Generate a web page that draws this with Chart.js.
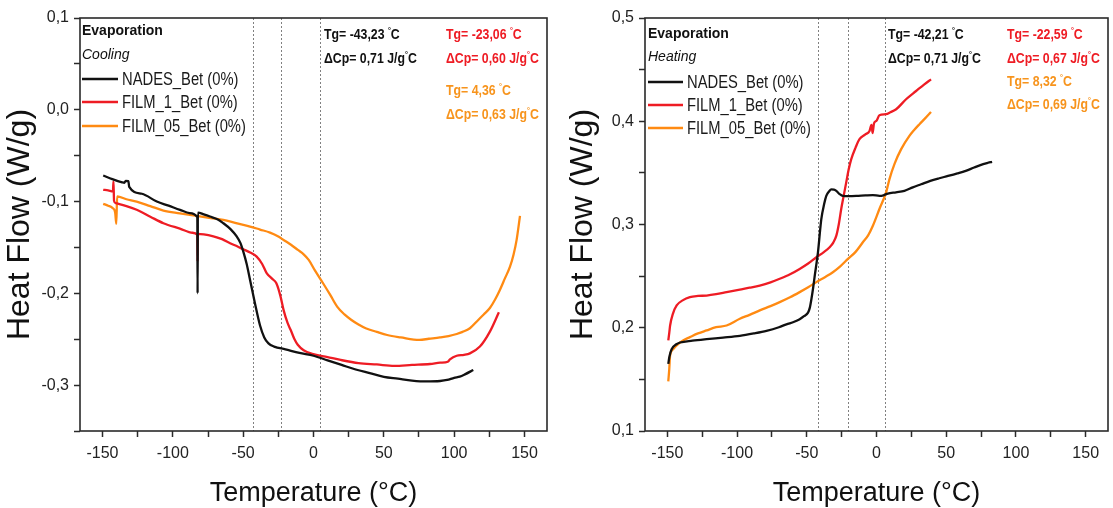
<!DOCTYPE html>
<html><head><meta charset="utf-8">
<script src="https://cdn.jsdelivr.net/npm/chart.js@4.4.1/dist/chart.umd.min.js"></script>
<style>
html,body{margin:0;padding:0;background:#fff;width:1113px;height:508px;overflow:hidden}
#left{position:absolute;left:0;top:0}
#right{position:absolute;left:560px;top:0}
</style></head><body>
<canvas id="left" width="560" height="508"></canvas>
<canvas id="right" width="553" height="508"></canvas>
<script>
// ---------- data ----------
const seriesNames = ['NADES_Bet (0%)', 'FILM_1_Bet (0%)', 'FILM_05_Bet (0%)'];

// Cooling (left panel)
const coolNadesT = [-149.5,-143,-136,-134.5,-133.5,-131.6,-131,-122,-111.4,-103,-94.9,-88,-82.6,-82.4,-82.2,-78,-73.6,-68,-64.1,-59,-54.6,-52,-49.9,-47.5,-45.1,-41.6,-38,-35,-32,-28,-20,-10,0,10,20,30,40,50,60,70,80,90,95,100,104,108,113.6];
const coolNadesHF = [-0.0716,-0.0755,-0.079,-0.0795,-0.0775,-0.0778,-0.084,-0.0915,-0.1,-0.1045,-0.109,-0.1125,-0.117,-0.2,-0.112,-0.114,-0.1163,-0.1195,-0.1236,-0.13,-0.138,-0.145,-0.1545,-0.168,-0.1854,-0.211,-0.235,-0.248,-0.2545,-0.258,-0.261,-0.265,-0.268,-0.273,-0.278,-0.283,-0.287,-0.291,-0.293,-0.295,-0.296,-0.2955,-0.2944,-0.292,-0.2908,-0.288,-0.2835];
const coolFilm1T = [-149.5,-146,-142.6,-142.2,-141.8,-140.6,-133,-125.7,-116,-106.7,-95,-86,-82.6,-82.4,-82.2,-78,-71.2,-65,-59.3,-54,-49.9,-45,-40.4,-36.5,-33.3,-29.5,-26.4,-23.5,-21.3,-18.5,-16.2,-13.5,-11.2,-7,-0.9,10,19.3,32,45,57.4,70,82.8,90,95.5,97,101.8,107,111.2,118.3,125.4,131.8];
const coolFilm1HF = [-0.0872,-0.0878,-0.089,-0.078,-0.099,-0.1017,-0.105,-0.109,-0.1165,-0.1236,-0.1295,-0.134,-0.1363,-0.1654,-0.1352,-0.1358,-0.138,-0.141,-0.1454,-0.149,-0.152,-0.1555,-0.16,-0.168,-0.178,-0.184,-0.189,-0.203,-0.218,-0.232,-0.24,-0.25,-0.256,-0.262,-0.266,-0.2695,-0.2726,-0.276,-0.2775,-0.279,-0.278,-0.277,-0.2756,-0.2745,-0.272,-0.268,-0.267,-0.2654,-0.258,-0.2417,-0.2206];
const coolFilm05T = [-149.5,-146,-142.7,-141,-140.2,-139.6,-133,-125.7,-116,-106.7,-95,-83,-73,-64.1,-55,-45.1,-38,-30.9,-25,-21.3,-16,-11.1,-7,-3.4,1,6.8,12,16.8,22,27,32,37.1,45,52.4,62,75.3,82,89.9,96,101.8,106,111.2,117.1,121,125.4,129,132.5,136,139.7,142.2,144.4,146.8];
const coolFilm05HF = [-0.1025,-0.1045,-0.1072,-0.112,-0.1243,-0.0945,-0.0975,-0.1,-0.105,-0.1098,-0.1128,-0.1156,-0.118,-0.12,-0.1235,-0.1272,-0.1305,-0.1338,-0.138,-0.1418,-0.147,-0.1527,-0.1575,-0.1636,-0.175,-0.189,-0.202,-0.2145,-0.223,-0.229,-0.234,-0.238,-0.242,-0.2454,-0.248,-0.2508,-0.2495,-0.248,-0.2465,-0.2443,-0.242,-0.238,-0.229,-0.223,-0.216,-0.207,-0.1963,-0.184,-0.171,-0.158,-0.1418,-0.1156];

// Heating (right panel)
const heatNadesT = [-149.3,-148.5,-146.9,-143.5,-140.9,-132,-121.8,-110,-98,-88,-78.9,-70,-64.6,-59,-55.1,-52,-49.1,-47.8,-46.7,-45.5,-44.3,-42,-39.6,-37.5,-36,-34,-32.4,-30.5,-28.8,-26.5,-24.1,-20,-14.5,-8,-2.6,2.1,5,8.1,14,20,26,32,38.6,45,51.3,58,64,70,76.5,80,82.9];
const heatNadesHF = [0.165,0.172,0.1792,0.184,0.1857,0.1875,0.189,0.1905,0.1922,0.1945,0.197,0.2005,0.2033,0.2058,0.2083,0.2112,0.2147,0.2195,0.2275,0.238,0.2502,0.2727,0.305,0.32,0.3277,0.332,0.334,0.3338,0.3325,0.3295,0.3277,0.3275,0.3277,0.3282,0.3285,0.3277,0.3283,0.33,0.3312,0.3325,0.336,0.339,0.3423,0.3448,0.347,0.3495,0.352,0.3552,0.3585,0.3598,0.3607];
const heatFilm1T = [-149.3,-148.6,-148,-146,-143.3,-139,-133.8,-128,-121.8,-115,-107.5,-98,-91,-83.7,-76,-69.4,-62,-55.1,-49,-43.1,-38,-33.6,-31,-28.8,-27,-25.3,-23.5,-21.7,-20,-18.1,-15,-12.2,-8,-5,-3.6,-2.8,-1.8,0,2.1,6.9,10,14.1,21.2,28.4,34.3,39.1];
const heatFilm1HF = [0.1877,0.195,0.2022,0.2135,0.2216,0.2265,0.2297,0.2308,0.2312,0.2325,0.2345,0.237,0.2388,0.2409,0.244,0.2474,0.2518,0.257,0.2622,0.2683,0.273,0.278,0.2825,0.2892,0.3005,0.315,0.328,0.3408,0.353,0.3633,0.3745,0.3826,0.3872,0.3906,0.3965,0.3885,0.398,0.4005,0.4058,0.4068,0.4088,0.4116,0.4213,0.4293,0.4358,0.4406];
const heatFilm05T = [-149.3,-148.6,-148,-146,-143.3,-139,-133.8,-128,-121.8,-115,-107.5,-98,-91,-83.7,-76,-69.4,-62,-55.1,-49,-43.1,-37,-31.3,-26,-20.5,-15,-9.8,-6,-2.6,2.1,6.9,9.3,13,17.7,23.6,27,30.8,35,39.1];
const heatFilm05HF = [0.148,0.16,0.1732,0.179,0.183,0.1875,0.1909,0.1945,0.1974,0.2005,0.2022,0.2087,0.2125,0.2168,0.221,0.2248,0.2295,0.2345,0.2392,0.2442,0.249,0.2538,0.2595,0.2667,0.2735,0.2828,0.2895,0.2988,0.315,0.3311,0.344,0.359,0.373,0.3858,0.3915,0.3971,0.403,0.409];

// annotation values
const coolingTg = ['-43,23', '-23,06', '4,36'];
const coolingDCp = ['0,71', '0,60', '0,63'];
const heatingTg = ['-42,21', '-22,59', '8,32'];
const heatingDCp = ['0,71', '0,67', '0,69'];
const coolingGuideT = [-43.23, -23.06, 4.36];
const heatingGuideT = [-42.2, -20.3, 6.4];

// axis ranges / ticks
const tempRange = [-166, 166];
const tempStep = 25, tempLabelStep = 50;
const coolHFRange = [-0.35, 0.1];
const heatHFRange = [0.1, 0.5];
const hfStep = 0.05;

// ---------- styling ----------
const COLORS = ['#111111', '#ee1c24', '#ff8a12'];
const TEXT_COLORS = ['#111111', '#ee1c24', '#f7941d'];
const SANS = "'Liberation Sans',Arial,sans-serif";
const SQUEEZE = 0.82;

function pairs(t, v) { return t.map((x, i) => ({x: x, y: v[i]})); }

function fillSqueezed(ctx, str, x, y, sx) {
  ctx.save();
  ctx.translate(x, y);
  ctx.scale(sx, 1);
  ctx.fillText(str, 0, 0);
  ctx.restore();
  return ctx.measureText(str).width * sx;
}

function drawRich(ctx, x, y, str, size) {
  const parts = str.split('°');
  const main = 'bold ' + size + 'px ' + SANS;
  const sup = 'bold ' + Math.round(size * 0.62) + 'px ' + SANS;
  let cx = x;
  parts.forEach((p, i) => {
    if (i > 0) {
      ctx.font = sup;
      cx += fillSqueezed(ctx, '°', cx, y - size * 0.40, SQUEEZE);
    }
    ctx.font = main;
    cx += fillSqueezed(ctx, p, cx, y, SQUEEZE);
  });
}

function decoPlugin(cfg) {
  return {
    id: 'deco',
    beforeDatasetsDraw(chart) {
      const {ctx, chartArea: a} = chart;
      const xs = chart.scales.x;
      ctx.save();
      ctx.strokeStyle = '#808080';
      ctx.lineWidth = 1;
      ctx.setLineDash([2, 2]);
      cfg.guides.forEach(t => {
        const px = Math.round(xs.getPixelForValue(t)) + 0.5;
        ctx.beginPath(); ctx.moveTo(px, a.top); ctx.lineTo(px, a.bottom); ctx.stroke();
      });
      ctx.restore();
    },
    afterDraw(chart) {
      const {ctx, chartArea: a} = chart;
      ctx.save();
      // frame
      ctx.strokeStyle = '#2a2a2a';
      ctx.lineWidth = 1.6;
      ctx.strokeRect(a.left, a.top, a.right - a.left, a.bottom - a.top);
      // heading
      ctx.fillStyle = '#111';
      ctx.textBaseline = 'alphabetic';
      ctx.textAlign = 'left';
      ctx.font = 'bold 14px ' + SANS;
      ctx.fillText('Evaporation', cfg.headX, cfg.headY);
      ctx.font = 'italic 14px ' + SANS;
      ctx.fillText(cfg.mode, cfg.headX, cfg.headY + cfg.modeGap);
      // legend
      ctx.font = '18px ' + SANS;
      ctx.textBaseline = 'middle';
      seriesNames.forEach((n, i) => {
        const y = cfg.legY[i];
        ctx.strokeStyle = COLORS[i];
        ctx.lineWidth = 2.4;
        ctx.beginPath(); ctx.moveTo(cfg.headX, y); ctx.lineTo(cfg.legLineEnd, y); ctx.stroke();
        ctx.fillStyle = '#1a1a1a';
        fillSqueezed(ctx, n, cfg.legTextX, y + 1, SQUEEZE);
      });
      // Tg / dCp annotations
      ctx.textBaseline = 'alphabetic';
      cfg.notes.forEach((nt, i) => {
        ctx.fillStyle = TEXT_COLORS[i];
        drawRich(ctx, nt[0], nt[1], 'Tg= ' + cfg.tg[i] + ' °C', 15);
        drawRich(ctx, nt[0], nt[2], 'ΔCp= ' + cfg.dcp[i] + ' J/g°C', 15);
      });
      ctx.restore();
    }
  };
}

function fmtHF(v) {
  const k = Math.round(v * 20);
  if (k % 2 !== 0) return '';
  return (Math.round(v * 10) / 10).toFixed(1).replace('.', ',');
}

function makeChart(id, datasetsSrc, yRange, yWidth, padRight, titlePadY, deco) {
  const datasets = datasetsSrc.map((d, i) => ({
    label: seriesNames[i],
    data: pairs(d[0], d[1]),
    borderColor: COLORS[i],
    backgroundColor: COLORS[i],
    borderWidth: 2.3,
    pointRadius: 0,
    showLine: true,
    fill: false,
    cubicInterpolationMode: 'monotone'
  }));
  return new Chart(document.getElementById(id), {
    type: 'scatter',
    data: {datasets: datasets},
    options: {
      responsive: false,
      animation: false,
      devicePixelRatio: 1,
      layout: {padding: {top: 18, right: padRight, left: 0, bottom: 0}},
      plugins: {legend: {display: false}, tooltip: {enabled: false}},
      scales: {
        x: {
          type: 'linear', min: tempRange[0], max: tempRange[1],
          afterBuildTicks: s => { s.ticks = s.ticks.filter(t => Math.abs(t.value / tempStep - Math.round(t.value / tempStep)) < 1e-6); },
          afterFit: s => { s.height = 77; },
          border: {display: false},
          grid: {drawOnChartArea: false, drawTicks: true, tickLength: 6, tickColor: '#2a2a2a', tickWidth: 1.5},
          ticks: {stepSize: tempStep, includeBounds: false, padding: 7, color: '#222', font: {family: SANS, size: 16},
                  maxRotation: 0, autoSkip: false,
                  callback: v => (Math.round(v) % tempLabelStep === 0 ? String(Math.round(v)) : '')},
          title: {display: true, text: 'Temperature (°C)', color: '#111',
                  font: {family: SANS, size: 27, lineHeight: 1}, padding: {top: 0, bottom: 1}}
        },
        y: {
          type: 'linear', min: yRange[0], max: yRange[1],
          afterBuildTicks: s => { s.ticks = s.ticks.filter(t => Math.abs(t.value / hfStep - Math.round(t.value / hfStep)) < 1e-6); },
          afterFit: s => { s.width = yWidth; },
          border: {display: false},
          grid: {drawOnChartArea: false, drawTicks: true, tickLength: 6, tickColor: '#2a2a2a', tickWidth: 1.5},
          ticks: {stepSize: hfStep, includeBounds: false, padding: 5, color: '#222', font: {family: SANS, size: 16}, autoSkip: false,
                  callback: v => fmtHF(v)},
          title: {display: true, text: 'Heat Flow (W/g)', color: '#111',
                  font: {family: SANS, size: 32, lineHeight: 1}, padding: {top: titlePadY, bottom: 0}}
        }
      }
    },
    plugins: [decoPlugin(deco)]
  });
}

makeChart('left',
  [[coolNadesT, coolNadesHF], [coolFilm1T, coolFilm1HF], [coolFilm05T, coolFilm05HF]],
  coolHFRange, 80, 13, 4,
  {guides: coolingGuideT, mode: 'Cooling', headX: 82, headY: 35, modeGap: 24,
   legY: [79, 102, 126], legLineEnd: 118, legTextX: 122,
   tg: coolingTg, dcp: coolingDCp,
   notes: [[324, 39, 63], [446, 39, 63], [446, 95, 119]]});

makeChart('right',
  [[heatNadesT, heatNadesHF], [heatFilm1T, heatFilm1HF], [heatFilm05T, heatFilm05HF]],
  heatHFRange, 85, 5, 7,
  {guides: heatingGuideT, mode: 'Heating', headX: 88, headY: 38, modeGap: 23,
   legY: [82, 105, 128], legLineEnd: 123, legTextX: 127,
   tg: heatingTg, dcp: heatingDCp,
   notes: [[328, 39, 63], [447, 39, 63], [447, 86, 109]]});
</script>
</body></html>
